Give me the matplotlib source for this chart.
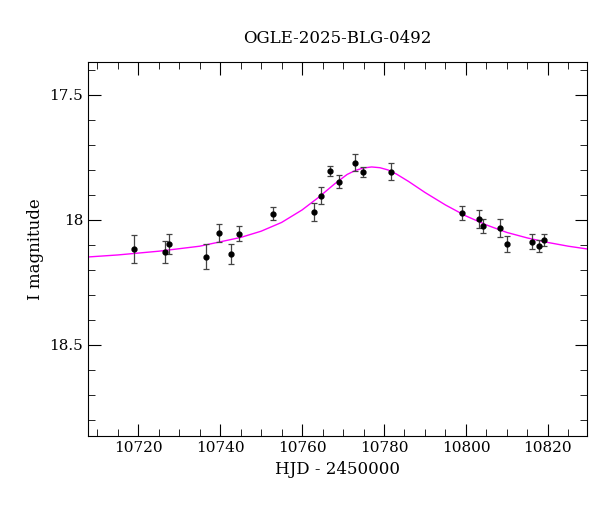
import matplotlib
matplotlib.use("Agg")
import matplotlib.pyplot as plt
from matplotlib.ticker import MultipleLocator

# observations
hjd = [10719.0, 10726.6, 10727.6, 10736.6, 10739.8, 10742.7, 10744.7, 10752.8,
       10762.8, 10764.7, 10766.7, 10768.9, 10773.0, 10774.8, 10781.8, 10799.0,
       10803.1, 10804.1, 10808.3, 10810.0, 10816.1, 10817.8, 10819.0]
mag = [18.116, 18.128, 18.096, 18.148, 18.052, 18.136, 18.056, 17.976,
       17.968, 17.904, 17.804, 17.848, 17.772, 17.808, 17.808, 17.972,
       17.996, 18.024, 18.032, 18.096, 18.088, 18.104, 18.080]
err = [0.056, 0.044, 0.040, 0.050, 0.036, 0.040, 0.030, 0.026,
       0.036, 0.034, 0.020, 0.026, 0.034, 0.020, 0.034, 0.028,
       0.036, 0.028, 0.036, 0.032, 0.030, 0.024, 0.024]

# model curve
model_t = [10706, 10715, 10725, 10735, 10745, 10750, 10755, 10760, 10764, 10768,
           10771, 10773, 10775, 10777, 10779, 10781, 10783, 10786, 10790, 10795,
           10800, 10805, 10810, 10815, 10820, 10825, 10830]
model_m = [18.150, 18.140, 18.125, 18.105, 18.070, 18.045, 18.010, 17.960, 17.910, 17.855,
           17.818, 17.802, 17.792, 17.788, 17.791, 17.800, 17.816, 17.846, 17.890, 17.940,
           17.984, 18.020, 18.050, 18.072, 18.090, 18.105, 18.117]

fig, ax = plt.subplots(figsize=(6, 5.12), dpi=100)
fig.subplots_adjust(left=0.147, right=0.978, top=0.879, bottom=0.148)

ax.plot(model_t, model_m, color="magenta", lw=1)
ax.errorbar(hjd, mag, yerr=err, fmt="o", color="black", ms=3.5,
            ecolor="#444444", elinewidth=0.9, capsize=2.5, capthick=0.9)

ax.set_xlim(10707.8, 10829.5)
ax.set_ylim(18.865, 17.368)
ax.xaxis.set_major_locator(MultipleLocator(20))
ax.xaxis.set_minor_locator(MultipleLocator(5))
ax.yaxis.set_minor_locator(MultipleLocator(0.1))
ax.set_yticks([17.5, 18, 18.5])
ax.set_yticklabels(["17.5", "18", "18.5"])
ax.tick_params(which="both", direction="in", top=True, right=True, labelsize=11)
ax.tick_params(which="major", length=9)
ax.tick_params(which="minor", length=5)
for lab in ax.get_xticklabels() + ax.get_yticklabels():
    lab.set_family("DejaVu Serif")

ax.set_xlabel("HJD - 2450000", fontsize=12, family="DejaVu Serif")
ax.set_ylabel("I magnitude", fontsize=12, family="DejaVu Serif")
ax.set_title("OGLE-2025-BLG-0492", fontsize=12, family="DejaVu Serif", pad=14)

fig.savefig("out.png", dpi=100)
